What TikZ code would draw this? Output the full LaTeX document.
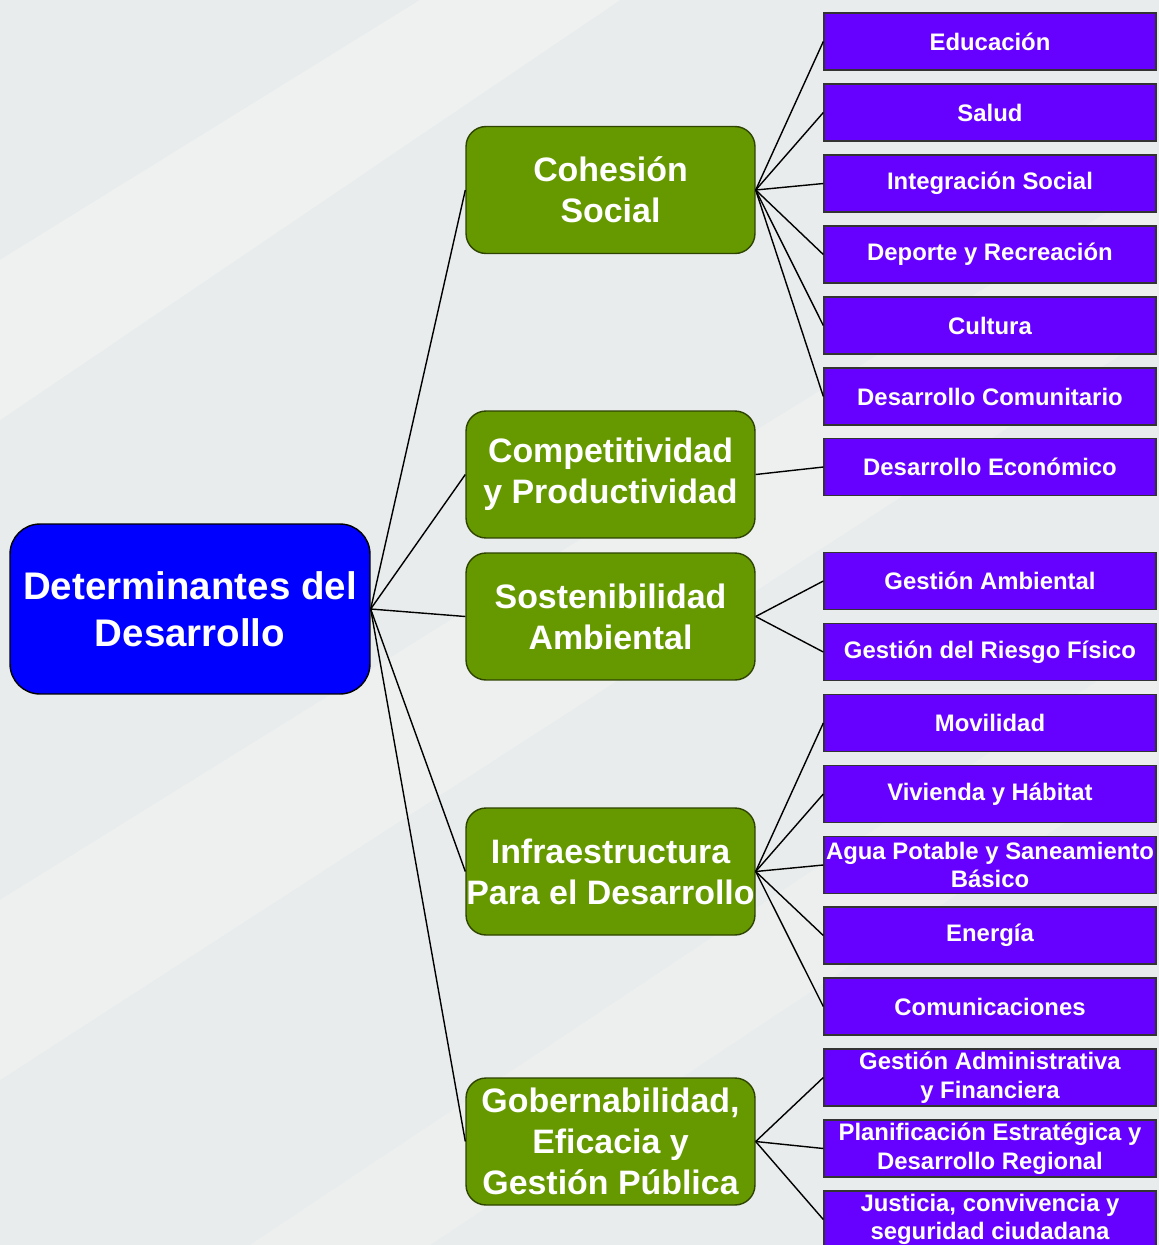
\documentclass[tikz,border=0pt]{standalone}
\usepackage{fontspec}
\setmainfont{Liberation Sans}
\usepackage{xcolor}
\usepackage{tikz}

\definecolor{rootblue}{HTML}{0000FF}
\definecolor{areagreen}{HTML}{669900}
\definecolor{areaedge}{HTML}{2E4400}
\definecolor{itempurple}{HTML}{6600FF}
\definecolor{bggray}{HTML}{E9ECEC}

\begin{document}
\begin{tikzpicture}[x=0.02cm, y=-0.02cm,
    rootbox/.style={draw=black, thick, fill=rootblue, rounded corners=0.6cm,
      minimum width=7.2cm, minimum height=3.4cm, inner sep=0pt, align=center,
      text=white, font=\fontsize{21.9}{26.5}\selectfont\bfseries},
    areabox/.style={draw=areaedge, thick, fill=areagreen, rounded corners=0.4cm,
      minimum width=5.78cm, minimum height=2.54cm, inner sep=0pt, align=center,
      text=white, font=\fontsize{19.3}{23.2}\selectfont\bfseries},
    itembox/.style={draw=black!80, thick, fill=itempurple,
      minimum width=6.64cm, minimum height=1.14cm, inner sep=0pt, align=center,
      text=white, font=\fontsize{13.6}{16.3}\selectfont\bfseries},
    link/.style={black, line width=0.8pt}]

    % Background
    \useasboundingbox (0,0) rectangle (1159,1245);
    \fill[bggray] (0,0) rectangle (1159,1245);
    \fill[white, opacity=0.3] (0,260) -- (420,0) -- (620,0) -- (0,420) -- cycle;
    \fill[white, opacity=0.25] (0,900) -- (1159,180) -- (1159,330) -- (0,1080) -- cycle;
    \fill[white, opacity=0.2] (250,1245) -- (1159,640) -- (1159,760) -- (430,1245) -- cycle;

    % Root
    \node[rootbox] (root) at (190,609) {Determinantes del\\Desarrollo};

    % Areas
    \node[areabox] (cohesion) at (610.5,190) {Cohesión\\Social};
    \node[areabox] (compet) at (610.5,474.5) {Competitividad\\y Productividad};
    \node[areabox] (sosten) at (610.5,616.5) {Sostenibilidad\\Ambiental};
    \node[areabox] (infra) at (610.5,871.5) {Infraestructura\\Para el Desarrollo};
    \node[areabox] (gober) at (610.5,1141.5) {Gobernabilidad,\\Eficacia y\\Gestión Pública};

    % Items
    \node[itembox] (educ) at (990,41.5) {Educación};
    \node[itembox] (salud) at (990,112.5) {Salud};
    \node[itembox] (integ) at (990,183.5) {Integración Social};
    \node[itembox] (deporte) at (990,254.5) {Deporte y Recreación};
    \node[itembox] (cultura) at (990,325.5) {Cultura};
    \node[itembox] (descom) at (990,396.5) {Desarrollo Comunitario};
    \node[itembox] (desecon) at (990,467) {Desarrollo Económico};
    \node[itembox] (gesamb) at (990,581) {Gestión Ambiental};
    \node[itembox] (riesgo) at (990,652) {Gestión del Riesgo Físico};
    \node[itembox] (movil) at (990,723) {Movilidad};
    \node[itembox] (vivienda) at (990,794) {Vivienda y Hábitat};
    \node[itembox] (agua) at (990,865) {Agua Potable y Saneamiento\\Básico};
    \node[itembox] (energia) at (990,935.5) {Energía};
    \node[itembox] (comunic) at (990,1006.5) {Comunicaciones};
    \node[itembox] (gesadm) at (990,1077.5) {Gestión Administrativa\\y Financiera};
    \node[itembox] (planif) at (990,1148.5) {Planificación Estratégica y\\Desarrollo Regional};
    \node[itembox] (justicia) at (990,1219.5) {Justicia, convivencia y\\seguridad ciudadana};

    % Links
    \foreach \a in {cohesion,compet,sosten,infra,gober}
        \draw[link] (root.east) -- (\a.west);
    \foreach \b in {educ,salud,integ,deporte,cultura,descom}
        \draw[link] (cohesion.east) -- (\b.west);
    \draw[link] (compet.east) -- (desecon.west);
    \foreach \b in {gesamb,riesgo}
        \draw[link] (sosten.east) -- (\b.west);
    \foreach \b in {movil,vivienda,agua,energia,comunic}
        \draw[link] (infra.east) -- (\b.west);
    \foreach \b in {gesadm,planif,justicia}
        \draw[link] (gober.east) -- (\b.west);
\end{tikzpicture}
\end{document}
